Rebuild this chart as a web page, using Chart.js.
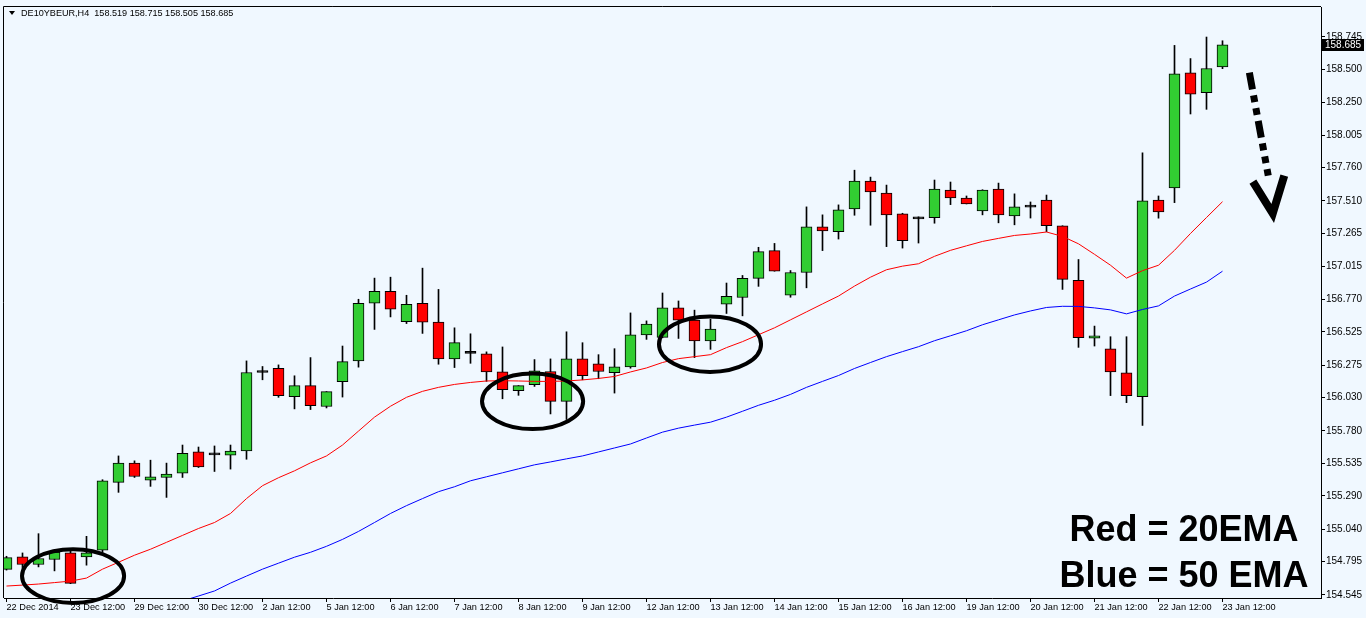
<!DOCTYPE html>
<html><head><meta charset="utf-8">
<script src="https://cdn.jsdelivr.net/npm/chart.js@4.4.0/dist/chart.umd.min.js"></script>
<style>html,body{margin:0;padding:0;background:#F0F8FF;overflow:hidden}canvas{display:block}</style>
</head><body>
<canvas id="c" width="1366" height="618"></canvas>
<script>
const symbolTitle = "DE10YBEUR,H4  158.519 158.715 158.505 158.685";
const xTickLabels = ["22 Dec 2014","23 Dec 12:00","29 Dec 12:00","30 Dec 12:00","2 Jan 12:00","5 Jan 12:00","6 Jan 12:00","7 Jan 12:00","8 Jan 12:00","9 Jan 12:00","12 Jan 12:00","13 Jan 12:00","14 Jan 12:00","15 Jan 12:00","16 Jan 12:00","19 Jan 12:00","20 Jan 12:00","21 Jan 12:00","22 Jan 12:00","23 Jan 12:00"];
const xTickEvery = 4;
const yTickValues = [158.745,158.500,158.250,158.005,157.760,157.510,157.265,157.015,156.770,156.525,156.275,156.030,155.780,155.535,155.290,155.040,154.795,154.545];

const opens = [
154.737,154.831,154.774,154.812,154.861,154.831,154.881,155.392,155.537,155.409,
155.429,155.462,155.621,155.599,155.596,155.628,156.219,156.251,156.037,156.120,
155.963,156.149,156.306,156.740,156.830,156.602,156.740,156.598,156.321,156.363,
156.359,156.224,156.082,156.127,156.226,156.002,156.321,156.284,156.217,156.261,
156.501,156.483,156.705,156.613,156.456,156.732,156.783,156.927,157.136,156.800,
156.971,157.315,157.278,157.450,157.659,157.569,157.412,157.375,157.383,157.592,
157.532,157.435,157.599,157.397,157.463,157.517,157.323,156.912,156.478,156.396,
156.217,156.037,157.517,157.607,158.474,158.324,158.519];
const highs = [
154.836,154.861,155.006,154.876,154.889,154.986,155.412,155.591,155.554,155.559,
155.537,155.673,155.658,155.666,155.673,156.306,156.264,156.276,156.194,156.331,
156.075,156.418,156.770,156.929,156.936,156.800,157.004,156.844,156.555,156.510,
156.374,156.411,156.120,156.316,156.321,156.525,156.443,156.353,156.398,156.667,
156.607,156.817,156.757,156.688,156.620,156.892,156.949,157.161,157.190,156.986,
157.465,157.405,157.480,157.741,157.689,157.629,157.417,157.390,157.667,157.652,
157.547,157.594,157.644,157.563,157.502,157.554,157.323,157.069,156.568,156.488,
156.488,157.871,157.547,158.680,158.581,158.743,158.715];
const lows = [
154.732,154.744,154.756,154.726,154.630,154.769,154.868,155.317,155.429,155.362,
155.279,155.429,155.504,155.474,155.492,155.566,156.164,156.032,155.945,155.940,
155.952,156.034,156.259,156.543,156.637,156.587,156.513,156.281,156.256,156.288,
156.152,156.021,156.047,156.114,155.907,155.865,156.164,156.172,156.064,156.251,
156.468,156.480,156.475,156.331,156.393,156.663,156.645,156.867,156.981,156.785,
156.856,157.136,157.223,157.402,157.327,157.166,157.155,157.193,157.342,157.482,
157.487,157.405,157.345,157.330,157.381,157.278,156.844,156.408,156.418,156.045,
155.992,155.821,157.380,157.497,158.164,158.199,158.505];
const closes = [
154.826,154.774,154.819,154.868,154.632,154.861,155.404,155.537,155.436,155.434,
155.454,155.611,155.509,155.599,155.628,156.219,156.219,156.045,156.120,155.970,
156.075,156.301,156.740,156.830,156.695,156.732,156.598,156.321,156.443,156.363,
156.224,156.090,156.120,156.232,156.002,156.321,156.194,156.226,156.261,156.503,
156.583,156.705,156.613,156.456,156.546,156.792,156.927,157.128,156.981,156.971,
157.315,157.285,157.442,157.659,157.577,157.405,157.211,157.375,157.599,157.532,
157.487,157.592,157.405,157.465,157.463,157.323,156.919,156.480,156.495,156.224,
156.045,157.510,157.427,158.466,158.314,158.506,158.685];
const ema20 = [
154.612,154.619,154.627,154.638,154.649,154.672,154.739,154.791,154.844,154.889,
154.941,154.993,155.045,155.090,155.158,155.270,155.367,155.427,155.479,155.539,
155.591,155.673,155.778,155.883,155.965,156.032,156.077,156.107,156.129,156.144,
156.155,156.157,156.155,156.152,156.152,156.155,156.163,156.174,156.189,156.223,
156.253,156.294,156.323,156.338,156.353,156.406,156.451,156.503,156.555,156.615,
156.675,156.735,156.794,156.869,156.936,156.992,157.019,157.037,157.093,157.138,
157.172,157.205,157.228,157.250,157.261,157.276,157.243,157.187,157.108,157.026,
156.929,156.985,157.026,157.138,157.265,157.385,157.504];
const ema50 = [
null,null,null,null,null,null,null,null,null,null,
154.463,154.500,154.537,154.575,154.634,154.687,154.739,154.784,154.829,154.866,
154.911,154.963,155.023,155.090,155.158,155.217,155.270,155.322,155.359,155.404,
155.434,155.464,155.494,155.524,155.546,155.569,155.591,155.621,155.651,155.681,
155.726,155.770,155.800,155.823,155.845,155.883,155.927,155.972,156.010,156.054,
156.107,156.152,156.196,156.249,156.294,156.338,156.376,156.413,156.458,156.495,
156.533,156.578,156.615,156.652,156.682,156.708,156.717,156.716,156.705,156.690,
156.660,156.693,156.720,156.794,156.847,156.899,156.981];

// annotation shapes, in data units (bar index, price)
const ellipses = [
  {cx:4.16, cy:154.687, rx:3.19, ry:0.202},
  {cx:32.88, cy:156.002, rx:3.16, ry:0.209},
  {cx:43.97, cy:156.432, rx:3.19, ry:0.209}
];
const arrowShaft = {x0:77.68, y0:158.475, x1:78.86, y1:157.700};
const arrowHead = {lx:77.90, ly:157.655, tx:79.14, ty:157.415, rx:79.86, ry:157.700};
const notes = [
  {text:"Red = 20EMA", x:73.59, y:154.948},
  {text:"Blue = 50 EMA", x:73.59, y:154.605}
];

const idx = opens.map((_, i) => i);
const bodyColors = opens.map((o, i) => Math.abs(closes[i] - o) < 0.0005 ? '#000000' : (closes[i] > o ? '#32CD32' : '#FF0000'));

const decor = {
  id: 'decor',
  beforeDraw(chart) {
    const c = chart.ctx, a = chart.chartArea;
    c.save();
    c.fillStyle = '#F0F8FF';
    c.fillRect(0, 0, chart.width, chart.height);
    c.strokeStyle = '#000';
    c.lineWidth = 1;
    c.beginPath();
    c.moveTo(a.left - 0.5, a.bottom);
    c.lineTo(a.left - 0.5, a.top - 0.5);
    c.lineTo(a.right, a.top - 0.5);
    c.stroke();
    c.restore();
  },
  afterDatasetsDraw(chart) {
    const c = chart.ctx, xs = chart.scales.x, ys = chart.scales.y;
    const X = v => xs.getPixelForValue(v), Y = v => ys.getPixelForValue(v);
    c.save();
    c.strokeStyle = '#000';
    c.lineWidth = 4;
    ellipses.forEach(e => {
      const cx = X(e.cx), cy = Y(e.cy);
      const rx = Math.abs(X(e.cx + e.rx) - cx), ry = Math.abs(Y(e.cy + e.ry) - cy);
      c.beginPath();
      c.ellipse(cx, cy, rx, ry, 0, 0, Math.PI * 2);
      c.stroke();
    });
    // dash-dot arrow
    c.lineWidth = 7;
    c.lineCap = 'butt';
    c.setLineDash([17, 6, 7, 6, 7, 6]);
    c.beginPath();
    c.moveTo(X(arrowShaft.x0), Y(arrowShaft.y0));
    c.lineTo(X(arrowShaft.x1), Y(arrowShaft.y1));
    c.stroke();
    c.setLineDash([]);
    c.lineWidth = 8;
    c.lineJoin = 'miter';
    c.beginPath();
    c.moveTo(X(arrowHead.lx), Y(arrowHead.ly));
    c.lineTo(X(arrowHead.tx), Y(arrowHead.ty));
    c.lineTo(X(arrowHead.rx), Y(arrowHead.ry));
    c.stroke();
    // notes
    c.fillStyle = '#000';
    c.font = 'bold 36px "Liberation Sans", Arial, sans-serif';
    c.textAlign = 'center';
    c.textBaseline = 'alphabetic';
    notes.forEach(n => c.fillText(n.text, X(n.x), Y(n.y)));
    c.restore();
  },
  afterDraw(chart) {
    const c = chart.ctx, ys = chart.scales.y, a = chart.chartArea;
    c.save();
    // header
    c.fillStyle = '#000';
    c.beginPath();
    c.moveTo(9, 11); c.lineTo(15, 11); c.lineTo(12, 15); c.closePath(); c.fill();
    c.font = '9.1px "Liberation Sans", Arial, sans-serif';
    c.textAlign = 'left';
    c.textBaseline = 'middle';
    c.fillText(symbolTitle, 21, 13.5);
    // current price marker
    const last = closes[closes.length - 1];
    const py = Math.round(ys.getPixelForValue(last));
    c.fillStyle = '#000';
    c.fillRect(a.right + 1, py - 6, 42, 12);
    c.fillStyle = '#fff';
    c.font = '10px "Liberation Sans", Arial, sans-serif';
    c.fillText(last.toFixed(3), a.right + 4, py + 0.5);
    c.restore();
  }
};

new Chart(document.getElementById('c').getContext('2d'), {
  type: 'bar',
  data: {
    datasets: [
      {type:'line', label:'EMA20', data: idx.map(i => ({x:i, y:ema20[i]})), borderColor:'#FF0000', borderWidth:1, pointRadius:0, tension:0, fill:false, order:0},
      {type:'line', label:'EMA50', data: idx.map(i => ({x:i, y:ema50[i]})), borderColor:'#0000FF', borderWidth:1, pointRadius:0, tension:0, fill:false, order:0},
      {label:'body', data: idx.map(i => ({x:i, y:[opens[i], closes[i]]})), backgroundColor: bodyColors, borderColor:'#000', borderWidth:1, borderSkipped:false, barThickness:11, minBarLength:2, grouped:false, order:1},
      {label:'wick', data: idx.map(i => ({x:i, y:[lows[i], highs[i]]})), backgroundColor:'#000', borderWidth:0, barThickness:1, grouped:false, order:2}
    ]
  },
  options: {
    responsive:false, animation:false, devicePixelRatio:1,
    layout:{padding:{left:4, top:3, right:0, bottom:0}},
    plugins:{legend:{display:false}, tooltip:{enabled:false}, title:{display:false}},
    scales:{
      x:{type:'linear', offset:false, min:-0.15625, max:82.15625,
        afterBuildTicks: ax => { ax.ticks = xTickLabels.map((_, k) => ({value: k * xTickEvery})); },
        afterFit: ax => { ax.height = 20; },
        grid:{offset:false, drawOnChartArea:false, drawTicks:true, tickLength:4, color:'#000'},
        border:{display:true, color:'#000', width:1},
        ticks:{autoSkip:false, maxRotation:0, minRotation:0, align:'start', padding:0, color:'#000',
          font:{family:'"Liberation Sans", Arial, sans-serif', size:9.2},
          callback: v => xTickLabels[Math.round(v / xTickEvery)]}
      },
      y:{type:'linear', position:'right', min:154.522, max:158.969,
        afterBuildTicks: ax => { ax.ticks = yTickValues.map(v => ({value:v})); },
        afterFit: ax => { ax.width = 45; },
        grid:{drawOnChartArea:false, drawTicks:true, tickLength:4, color:'#000'},
        border:{display:true, color:'#000', width:1},
        ticks:{padding:1, color:'#000', font:{family:'"Liberation Sans", Arial, sans-serif', size:10},
          callback: v => Number(v).toFixed(3)}
      }
    }
  },
  plugins:[decor]
});
</script>
</body></html>
